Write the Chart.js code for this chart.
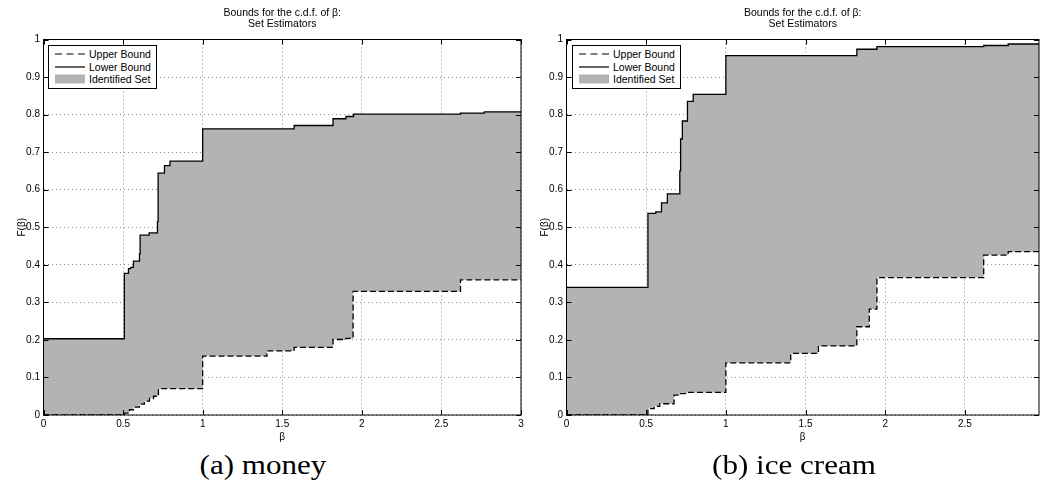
<!DOCTYPE html>
<html>
<head>
<meta charset="utf-8">
<script src="https://cdn.jsdelivr.net/npm/chart.js@4.4.1/dist/chart.umd.min.js"></script>
<style>
  html, body { margin: 0; padding: 0; background: #fff; }
  body { width: 1040px; height: 487px; position: relative; overflow: hidden; font-family: "Liberation Sans", Arial, sans-serif; }
  .panel { position: absolute; top: 0; height: 450px; }
  .panel canvas { display: block; }
  .legend { position: absolute; top: 45px; width: 107px; height: 40px; padding-top: 2px; background: #fff; border: 1px solid #000; font-size: 10.5px; color: #000; }
  .legend .row { height: 12.5px; display: flex; align-items: center; white-space: nowrap; }
  .legend svg { margin-left: 6px; margin-right: 4px; flex: none; }
  .caption { position: absolute; top: 451px; width: 400px; line-height: 28px; text-align: center; font-family: "Liberation Serif", "DejaVu Serif", serif; font-size: 27px; color: #000; transform: scaleX(1.15); }
</style>
</head>
<body>
<div class="panel" style="left:0;width:530px"><canvas id="moneyChart" width="530" height="450"></canvas></div>
<div class="panel" style="left:523px;width:517px"><canvas id="iceChart" width="517" height="450"></canvas></div>

<div class="legend" style="left:48px">
  <div class="row"><svg width="30" height="10"><line x1="0" y1="5" x2="30" y2="5" stroke="#000" stroke-width="1.2" stroke-dasharray="7 4.5"/></svg>Upper Bound</div>
  <div class="row"><svg width="30" height="10"><line x1="0" y1="5" x2="30" y2="5" stroke="#000" stroke-width="1.2"/></svg>Lower Bound</div>
  <div class="row"><svg width="30" height="10"><rect x="0" y="0.5" width="30" height="9" fill="#b3b3b3"/></svg>Identified Set</div>
</div>
<div class="legend" style="left:572px">
  <div class="row"><svg width="30" height="10"><line x1="0" y1="5" x2="30" y2="5" stroke="#000" stroke-width="1.2" stroke-dasharray="7 4.5"/></svg>Upper Bound</div>
  <div class="row"><svg width="30" height="10"><line x1="0" y1="5" x2="30" y2="5" stroke="#000" stroke-width="1.2"/></svg>Lower Bound</div>
  <div class="row"><svg width="30" height="10"><rect x="0" y="0.5" width="30" height="9" fill="#b3b3b3"/></svg>Identified Set</div>
</div>

<div class="caption" style="left:63px">(a) money</div>
<div class="caption" style="left:594px">(b) ice cream</div>

<script>
// Datos (escalones de la c.d.f.)
const moneyUpperX = [0, 0.508, 0.54, 0.565, 0.603, 0.634, 0.666, 0.691, 0.722, 1.0, 1.404, 1.575, 1.819, 1.90, 1.945, 2.62, 3];
const moneyUpperY = [0, 0.005, 0.014, 0.021, 0.029, 0.037, 0.044, 0.05, 0.07, 0.157, 0.171, 0.18, 0.201, 0.204, 0.329, 0.36, 0.36];
const moneyLowerX = [0, 0.508, 0.534, 0.548, 0.565, 0.603, 0.607, 0.664, 0.716, 0.72, 0.76, 0.795, 1.0, 1.575, 1.819, 1.90, 1.948, 2.62, 2.77, 3];
const moneyLowerY = [0.203, 0.377, 0.39, 0.393, 0.41, 0.429, 0.479, 0.485, 0.515, 0.644, 0.664, 0.676, 0.762, 0.771, 0.789, 0.795, 0.801, 0.804, 0.807, 0.807];

const iceUpperX = [0, 0.511, 0.55, 0.585, 0.675, 0.711, 0.753, 1.0, 1.407, 1.581, 1.822, 1.90, 1.948, 2.618, 2.772, 2.965];
const iceUpperY = [0, 0.017, 0.023, 0.03, 0.053, 0.057, 0.06, 0.139, 0.164, 0.184, 0.235, 0.282, 0.366, 0.426, 0.435, 0.435];
const iceLowerX = [0, 0.511, 0.56, 0.596, 0.633, 0.711, 0.716, 0.727, 0.759, 0.795, 1.0, 1.822, 1.948, 2.618, 2.772, 2.965];
const iceLowerY = [0.34, 0.537, 0.541, 0.565, 0.589, 0.65, 0.735, 0.783, 0.835, 0.854, 0.957, 0.974, 0.981, 0.984, 0.988, 0.988];

const moneyXMax = 3;
const iceXMax = 2.965;
const yTicksStep = 0.1;
const xTicksStep = 0.5;

const fuente = '"Liberation Sans", Arial, sans-serif';
const gris = '#b3b3b3';

// Caja y marcas hacia dentro, estilo MATLAB
const cajaMatlab = {
  id: 'cajaMatlab',
  afterDraw(chart) {
    const { ctx, chartArea: a, scales } = chart;
    ctx.save();
    ctx.strokeStyle = '#000';
    ctx.lineWidth = 1;
    ctx.strokeRect(a.left, a.top, a.right - a.left, a.bottom - a.top);
    ctx.beginPath();
    scales.x.ticks.forEach(t => {
      const px = Math.round(scales.x.getPixelForValue(t.value)) + 0.5;
      ctx.moveTo(px, a.bottom); ctx.lineTo(px, a.bottom - 5);
      ctx.moveTo(px, a.top); ctx.lineTo(px, a.top + 5);
    });
    scales.y.ticks.forEach(t => {
      const py = Math.round(scales.y.getPixelForValue(t.value)) + 0.5;
      ctx.moveTo(a.left, py); ctx.lineTo(a.left + 5, py);
      ctx.moveTo(a.right, py); ctx.lineTo(a.right - 5, py);
    });
    ctx.stroke();
    ctx.restore();
  }
};

function puntos(xs, ys) {
  return xs.map((x, i) => ({ x: x, y: ys[i] }));
}

function crearGrafica(id, upX, upY, loX, loY, xMax, padDerecha) {
  return new Chart(document.getElementById(id).getContext('2d'), {
    type: 'line',
    data: {
      datasets: [
        { label: 'Upper Bound', data: puntos(upX, upY), stepped: true, borderColor: '#000', borderWidth: 1.3,
          borderDash: [6, 3], pointRadius: 0, fill: false },
        { label: 'Lower Bound', data: puntos(loX, loY), stepped: true, borderColor: '#000', borderWidth: 1.3,
          pointRadius: 0, fill: '-1', backgroundColor: gris }
      ]
    },
    options: {
      responsive: false,
      animation: false,
      layout: { padding: { left: 0, right: padDerecha, top: 0, bottom: 0 } },
      plugins: {
        legend: { display: false },
        tooltip: { enabled: false },
        filler: { drawTime: 'beforeDatasetsDraw' },
        title: {
          display: true, fullSize: false,
          text: ['Bounds for the c.d.f. of β:', 'Set Estimators'],
          color: '#000',
          font: { family: fuente, size: 10.5, weight: 'normal', lineHeight: 1.1 },
          padding: { top: 7, bottom: 9.4 }
        }
      },
      scales: {
        x: {
          type: 'linear', min: 0, max: xMax,
          afterFit: s => { s.height = 35; },
          ticks: { stepSize: xTicksStep, includeBounds: false, autoSkip: false, maxRotation: 0, padding: 3,
            color: '#000', font: { family: fuente, size: 10 },
            callback: v => String(Math.round(v * 10) / 10) },
          grid: { drawTicks: false, color: 'rgba(0,0,0,0.45)', lineWidth: 1 },
          border: { display: false, dash: [1, 3] },
          title: { display: true, text: 'β', color: '#000', font: { family: fuente, size: 10 }, padding: { top: 0, bottom: 7 } }
        },
        y: {
          type: 'linear', min: 0, max: 1,
          afterFit: s => { s.width = 43.5; },
          ticks: { stepSize: yTicksStep, autoSkip: false, padding: 3.5, color: '#000', font: { family: fuente, size: 10 },
            callback: v => String(Math.round(v * 10) / 10) },
          grid: { drawTicks: false, color: 'rgba(0,0,0,0.45)', lineWidth: 1 },
          border: { display: false, dash: [1, 3] },
          title: { display: true, text: 'F(β)', color: '#000', font: { family: fuente, size: 10 }, padding: { top: 16, bottom: 0 } }
        }
      }
    },
    plugins: [cajaMatlab]
  });
}

crearGrafica('moneyChart', moneyUpperX, moneyUpperY, moneyLowerX, moneyLowerY, moneyXMax, 9);
crearGrafica('iceChart', iceUpperX, iceUpperY, iceLowerX, iceLowerY, iceXMax, 1);
</script>
</body>
</html>
